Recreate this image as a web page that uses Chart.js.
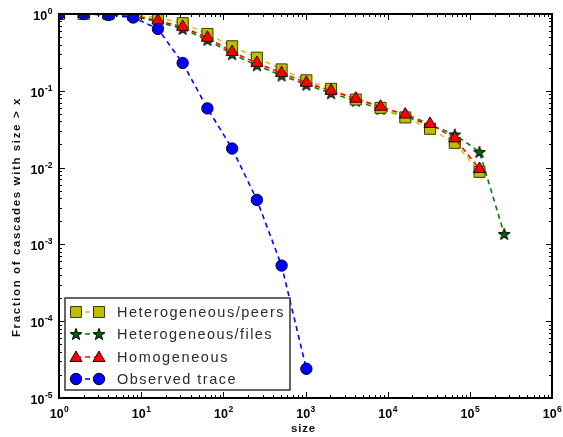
<!DOCTYPE html>
<html>
<head>
<meta charset="utf-8">
<script src="https://cdn.jsdelivr.net/npm/chart.js@4.4.1/dist/chart.umd.min.js"></script>
<style>
  body { margin: 0; background: #fff; }
  #cascadeChart { display: block; }
</style>
</head>
<body>
<canvas id="cascadeChart" width="563" height="437"></canvas>
<script>
// cascade sizes (powers of 2)
var sizes = [1, 2, 4, 8, 16, 32, 64, 128, 256, 512, 1024, 2048, 4096, 8192, 16384, 32768, 65536, 131072, 262144];

// fraction of cascades with size > x
var peersFrac    = [1, 1, 1, 0.97, 0.9, 0.76, 0.55, 0.38, 0.27, 0.19, 0.137, 0.106, 0.077, 0.06, 0.045, 0.032, 0.021, 0.0088];
var filesFrac    = [1, 1, 0.99, 0.94, 0.79, 0.64, 0.46, 0.3, 0.215, 0.158, 0.12, 0.093, 0.074, 0.058, 0.046, 0.036, 0.027, 0.016, 0.00137];
var homogFrac    = [1, 1, 0.99, 0.95, 0.82, 0.68, 0.49, 0.32, 0.23, 0.17, 0.127, 0.1, 0.079, 0.062, 0.049, 0.037, 0.024, 0.0096];
var observedFrac = [1, 1, 0.97, 0.9, 0.64, 0.23, 0.059, 0.0177, 0.0038, 0.00053, 0.000024];

var seriesNames = ['Heterogeneous/peers', 'Heterogeneous/files', 'Homogeneous', 'Observed trace'];
var xExponents = [0, 1, 2, 3, 4, 5, 6];
var yExponents = [0, -1, -2, -3, -4, -5];

var FONT = '"Liberation Sans", Arial, Helvetica, sans-serif';

function toPoints(vals) {
  var pts = [];
  for (var i = 0; i < vals.length; i++) pts.push({ x: sizes[i], y: vals[i] });
  return pts;
}

function makeStar(fill) {
  var c = document.createElement('canvas');
  c.width = 14; c.height = 14;
  var g = c.getContext('2d');
  g.beginPath();
  for (var i = 0; i < 10; i++) {
    var r = i % 2 ? 2.5 : 6.2;
    var a = -Math.PI / 2 + i * Math.PI / 5;
    g.lineTo(7 + r * Math.cos(a), 7.6 + r * Math.sin(a));
  }
  g.closePath();
  g.fillStyle = fill; g.fill();
  g.strokeStyle = '#000'; g.lineWidth = 1; g.stroke();
  return c;
}
var starImg = makeStar('#006400');

var styles = [
  { line: '#cccc00', fill: '#bcbc00', edge: '#3a3a00', shape: 'rect', r: 7.8 },
  { line: '#008000', fill: '#006400', edge: '#000', shape: starImg, r: 6 },
  { line: '#ff0000', fill: '#ff0000', edge: '#300000', shape: 'triangle', r: 7 },
  { line: '#0000ff', fill: '#0000ff', edge: '#000030', shape: 'circle', r: 5.7 }
];
var allVals = [peersFrac, filesFrac, homogFrac, observedFrac];
var drawOrder = [2, 3, 1, 0];

var datasets = [];
for (var k = 0; k < 4; k++) {
  datasets.push({
    label: seriesNames[k],
    data: toPoints(allVals[k]),
    borderColor: styles[k].line,
    borderWidth: 1.6,
    borderDash: [5, 4],
    pointStyle: styles[k].shape,
    pointRadius: styles[k].r,
    pointBackgroundColor: styles[k].fill,
    pointBorderColor: styles[k].edge,
    pointBorderWidth: 1,
    tension: 0,
    fill: false,
    order: drawOrder[k]
  });
}

function powLabel(ctx, exp, x, y, align) {
  var base = '10', sup = String(exp);
  ctx.font = 'bold 12.5px ' + FONT;
  var wb = ctx.measureText(base).width;
  ctx.font = 'bold 8.5px ' + FONT;
  var ws = ctx.measureText(sup).width;
  var left = align === 'center' ? x - (wb + ws) / 2 : x - wb - ws;
  ctx.textAlign = 'left';
  ctx.textBaseline = 'alphabetic';
  ctx.font = 'bold 12.5px ' + FONT;
  ctx.fillText(base, left, y);
  ctx.font = 'bold 8.5px ' + FONT;
  ctx.fillText(sup, left + wb + 0.5, y - 6);
}

function spacedText(ctx, txt, x, y, target) {
  ctx.letterSpacing = '0px';
  var w = ctx.measureText(txt).width;
  var ls = (target - w) / txt.length;
  ctx.letterSpacing = ls.toFixed(2) + 'px';
  ctx.fillText(txt, x, y);
  ctx.letterSpacing = '0px';
}

function drawMarker(ctx, k, x, y) {
  var s = styles[k];
  ctx.fillStyle = s.fill; ctx.strokeStyle = s.edge; ctx.lineWidth = 1;
  ctx.beginPath();
  if (s.shape === 'rect') {
    var h = s.r * Math.SQRT1_2;
    ctx.rect(x - h, y - h, 2 * h, 2 * h);
  } else if (s.shape === 'triangle') {
    for (var i = 0; i < 3; i++) {
      var a = i * 2 * Math.PI / 3;
      ctx.lineTo(x + Math.sin(a) * s.r, y + 1 - Math.cos(a) * s.r);
    }
    ctx.closePath();
  } else if (s.shape === 'circle') {
    ctx.arc(x, y, s.r, 0, Math.PI * 2);
  } else {
    ctx.drawImage(starImg, x - 7, y - 7);
    return;
  }
  ctx.fill(); ctx.stroke();
}

var axesPlugin = {
  id: 'matlabAxes',
  afterDraw: function (chart) {
    var ctx = chart.ctx, a = chart.chartArea;
    var xs = chart.scales.x, ys = chart.scales.y;
    ctx.save();

    // inward ticks on all four sides
    ctx.strokeStyle = '#000';
    ctx.lineWidth = 1;
    ctx.beginPath();
    for (var d = 0; d < 6; d++) {
      for (var m = 1; m < 10; m++) {
        var v = m * Math.pow(10, d);
        var px = Math.round(xs.getPixelForValue(v)) + 0.5;
        var len = m === 1 ? 6 : 3;
        ctx.moveTo(px, a.bottom); ctx.lineTo(px, a.bottom - len);
        ctx.moveTo(px, a.top); ctx.lineTo(px, a.top + len);
      }
    }
    for (var e = -5; e < 0; e++) {
      for (var n = 1; n < 10; n++) {
        var vy = n * Math.pow(10, e);
        var py = Math.round(ys.getPixelForValue(vy)) + 0.5;
        var ln = n === 1 ? 6 : 3;
        ctx.moveTo(a.left, py); ctx.lineTo(a.left + ln, py);
        ctx.moveTo(a.right, py); ctx.lineTo(a.right - ln, py);
      }
    }
    ctx.stroke();

    // box
    ctx.lineWidth = 2;
    ctx.strokeRect(a.left, a.top, a.right - a.left, a.bottom - a.top);

    // tick labels
    ctx.fillStyle = '#000';
    xExponents.forEach(function (p) {
      powLabel(ctx, p, xs.getPixelForValue(Math.pow(10, p)), a.bottom + 20, 'center');
    });
    yExponents.forEach(function (p) {
      powLabel(ctx, p, a.left - 7, ys.getPixelForValue(Math.pow(10, p)) + 6, 'right');
    });

    // axis titles
    ctx.fillStyle = '#111';
    ctx.font = 'bold 11.5px ' + FONT;
    ctx.textAlign = 'center';
    ctx.textBaseline = 'middle';
    spacedText(ctx, 'size', (a.left + a.right) / 2 - 2, 429, 25);
    ctx.save();
    ctx.translate(17, 217);
    ctx.rotate(-Math.PI / 2);
    spacedText(ctx, 'Fraction of cascades with size > x', 0, 0, 240);
    ctx.restore();

    // legend
    var lx = 65, ly = 298, lw = 225, lh = 92;
    ctx.fillStyle = '#fff';
    ctx.fillRect(lx, ly, lw, lh);
    ctx.strokeStyle = '#333';
    ctx.lineWidth = 1.5;
    ctx.strokeRect(lx, ly, lw, lh);
    var rows = [312, 334, 357, 379];
    for (var k = 0; k < 4; k++) {
      var ry = rows[k];
      ctx.strokeStyle = styles[k].line;
      ctx.lineWidth = 1.6;
      ctx.setLineDash([5, 4]);
      ctx.beginPath(); ctx.moveTo(76, ry); ctx.lineTo(99, ry); ctx.stroke();
      ctx.setLineDash([]);
      drawMarker(ctx, k, 76, ry);
      drawMarker(ctx, k, 99, ry);
      ctx.fillStyle = '#2b2b2b';
      ctx.font = '14.5px ' + FONT;
      ctx.textAlign = 'left';
      ctx.textBaseline = 'middle';
      var tw = { 0: 168, 1: 156, 2: 112, 3: 120 }[k];
      spacedText(ctx, seriesNames[k], 117, ry + 1, tw);
    }
    ctx.restore();
  }
};

var cascadeChart = new Chart(document.getElementById('cascadeChart').getContext('2d'), {
  type: 'line',
  data: { datasets: datasets },
  options: {
    responsive: false,
    animation: false,
    devicePixelRatio: 1,
    layout: { padding: { left: 59, top: 14, right: 11, bottom: 39 } },
    plugins: { legend: { display: false }, tooltip: { enabled: false } },
    scales: {
      x: { type: 'logarithmic', min: 1, max: 1e6, display: false },
      y: { type: 'logarithmic', min: 1e-5, max: 1, display: false }
    }
  },
  plugins: [axesPlugin]
});
</script>
</body>
</html>
